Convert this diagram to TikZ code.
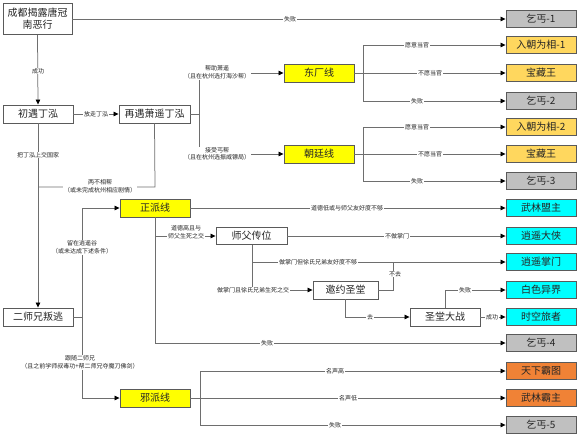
\documentclass[tikz,border=0pt]{standalone}
\usepackage{fontspec}
\newfontfamily\cjk{Noto Sans CJK SC}
\usetikzlibrary{arrows.meta}
\definecolor{bordc}{HTML}{5A5A5A}
\definecolor{linec}{HTML}{6E6E6E}
\definecolor{greyf}{HTML}{C0C0C0}
\definecolor{goldf}{HTML}{FFD75E}
\definecolor{yelf}{HTML}{FFFF00}
\definecolor{cyanf}{HTML}{00FFFF}
\definecolor{orgf}{HTML}{F08236}
\tikzset{
  box/.style={draw=bordc, line width=0.9pt, fill=white, inner sep=0pt, align=center,
    font=\cjk\fontsize{10}{12}\selectfont, text=black!85},
  endbox/.style={box, minimum width=70pt, minimum height=17pt},
  midbox/.style={box, minimum width=70pt, minimum height=18pt},
  greyb/.style={endbox, fill=greyf},
  goldb/.style={endbox, fill=goldf},
  cyanb/.style={endbox, fill=cyanf},
  orgb/.style={endbox, fill=orgf},
  yelb/.style={midbox, fill=yelf},
  lbl/.style={font=\cjk\fontsize{6}{7.5}\selectfont, fill=white, inner sep=0.6pt, align=center, text=black!85},
  conn/.style={draw=linec, line width=0.75pt},
  arr/.style={conn, -{Triangle[length=5pt,width=4.5pt,color=black]}}
}
\begin{document}
\begin{tikzpicture}[x=1pt,y=-1pt]
\useasboundingbox (0,0) rectangle (580,439);
% main nodes
\node[box, minimum width=69pt, minimum height=31pt] (n0) at (37.5,19) {成都揭露唐冠\\南恶行};
\node[midbox] (n1) at (38,114) {初遇丁泓};
\node[midbox, minimum width=71pt] (n2) at (154.5,114) {再遇萧遥丁泓};
\node[midbox] (n3) at (38,317) {二师兄叛逃};
\node[yelb] (dc) at (319,73) {东厂线};
\node[yelb] (ct) at (319,154) {朝廷线};
\node[yelb] (zp) at (155,208) {正派线};
\node[yelb] (xp) at (155,398) {邪派线};
\node[midbox, minimum width=71pt, minimum height=17pt] (sf) at (251.5,236) {师父传位};
\node[midbox, minimum width=65pt] (yy) at (345.5,290) {邀约圣堂};
\node[midbox] (sd) at (445,317) {圣堂大战};
% end nodes
\node[greyb] (e1) at (541,19) {乞丐-1};
\node[goldb] (e2) at (541,45) {入朝为相-1};
\node[goldb] (e3) at (541,73) {宝藏王};
\node[greyb] (e4) at (541,101) {乞丐-2};
\node[goldb] (e5) at (541,127) {入朝为相-2};
\node[goldb] (e6) at (541,154) {宝藏王};
\node[greyb] (e7) at (541,181) {乞丐-3};
\node[cyanb] (e8) at (541,208) {武林盟主};
\node[cyanb] (e9) at (541,236) {逍遥大侠};
\node[cyanb] (e10) at (541,262) {逍遥掌门};
\node[cyanb] (e11) at (541,290) {白色异界};
\node[cyanb] (e12) at (541,317) {时空旅者};
\node[greyb] (e13) at (541,343) {乞丐-4};
\node[orgb] (e14) at (541,371) {天下霸图};
\node[orgb] (e15) at (541,398) {武林霸主};
\node[greyb] (e16) at (541,425) {乞丐-5};
% junction coordinates
\coordinate (jA) at (199,114);
\coordinate (jB) at (363,73);
\coordinate (jC) at (363,154);
\coordinate (jD) at (82,317);
\coordinate (jE) at (155,236);
\coordinate (jF) at (252,262);
\coordinate (jG) at (200,398);
\coordinate (jH) at (155,187);
\coordinate (jI) at (38,187);
\coordinate (jJ) at (393,262);
% connectors
\draw[arr] (n0.east) -- (e1.west);
\draw[arr] (n0.south) -- (n1.north);
\draw[arr] (n1.east) -- (n2.west);
\draw[arr] (n1.south) -- (n3.north);
\draw[conn] (n2.south) -- (jH) -- (jI);
\draw[conn] (n2.east) -- (jA);
\draw[arr] (jA) |- (dc.west);
\draw[arr] (jA) |- (ct.west);
\draw[conn] (dc.east) -- (jB);
\draw[arr] (jB) |- (e2.west);
\draw[arr] (jB) -- (e3.west);
\draw[arr] (jB) |- (e4.west);
\draw[conn] (ct.east) -- (jC);
\draw[arr] (jC) |- (e5.west);
\draw[arr] (jC) -- (e6.west);
\draw[arr] (jC) |- (e7.west);
\draw[conn] (n3.east) -- (jD);
\draw[arr] (jD) |- (zp.west);
\draw[arr] (jD) |- (xp.west);
\draw[arr] (zp.east) -- (e8.west);
\draw[arr] (zp.south) |- (e13.west);
\draw[arr] (jE) -- (sf.west);
\draw[arr] (sf.east) -- (e9.west);
\draw[conn] (sf.south -| jF) -- (jF);
\draw[arr] (jF) -- (e10.west);
\draw[arr] (jF) |- (yy.west);
\draw[conn] (yy.east) -| (jJ);
\draw[arr] (yy.south) |- (sd.west);
\draw[arr] (sd.north) |- (e11.west);
\draw[arr] (sd.east) -- (e12.west);
\draw[arr] (xp.east) -- (e15.west);
\draw[arr] (jG) |- (e14.west);
\draw[arr] (jG) |- (e16.west);
% labels
\node[lbl] (l1) at (290,19) {失败};
\node[lbl] (l2) at (38,71) {成功};
\node[lbl] (l3) at (96,114) {放走丁泓};
\node[lbl] (l4) at (38,155) {把丁泓上交国家};
\node[lbl] (l5) at (100,186.5) {两不相帮\\（或未完成杭州相应剧情）};
\node[lbl] (l6) at (217,72.5) {帮助萧遥\\（且在杭州选打海沙帮）};
\node[lbl] (l7) at (217,154) {接受丐帮\\（且在杭州选振威镖局）};
\node[lbl] (l8) at (417,45) {愿意当官};
\node[lbl] (l9) at (430,73) {不愿当官};
\node[lbl] (l10) at (417,101) {失败};
\node[lbl] (l11) at (417,127) {愿意当官};
\node[lbl] (l12) at (430,154) {不愿当官};
\node[lbl] (l13) at (417,181) {失败};
\node[lbl] (l14) at (347,208) {道德低或与师父友好度不够};
\node[lbl] (l15) at (186,232) {道德高且与\\师父生死之交};
\node[lbl] (l16) at (397,236) {不做掌门};
\node[lbl] (l17) at (318,262) {做掌门但徐氏兄弟友好度不够};
\node[lbl] (l18) at (253,290) {做掌门且徐氏兄弟生死之交};
\node[lbl] (l19) at (395,274) {不去};
\node[lbl] (l20) at (370,317) {去};
\node[lbl] (l21) at (465,290) {失败};
\node[lbl] (l22) at (492,317) {成功};
\node[lbl] (l23) at (82,247.5) {留在逍遥谷\\（或未达成下述条件）};
\node[lbl] (l24) at (267,343) {失败};
\node[lbl] (l25) at (80,362.5) {跟随二师兄\\（且之前学师叔毒功+帮二师兄夺魔刀佛剑）};
\node[lbl] (l26) at (335,371) {名声高};
\node[lbl] (l27) at (348,398) {名声低};
\node[lbl] (l28) at (335,425) {失败};
\end{tikzpicture}
\end{document}
